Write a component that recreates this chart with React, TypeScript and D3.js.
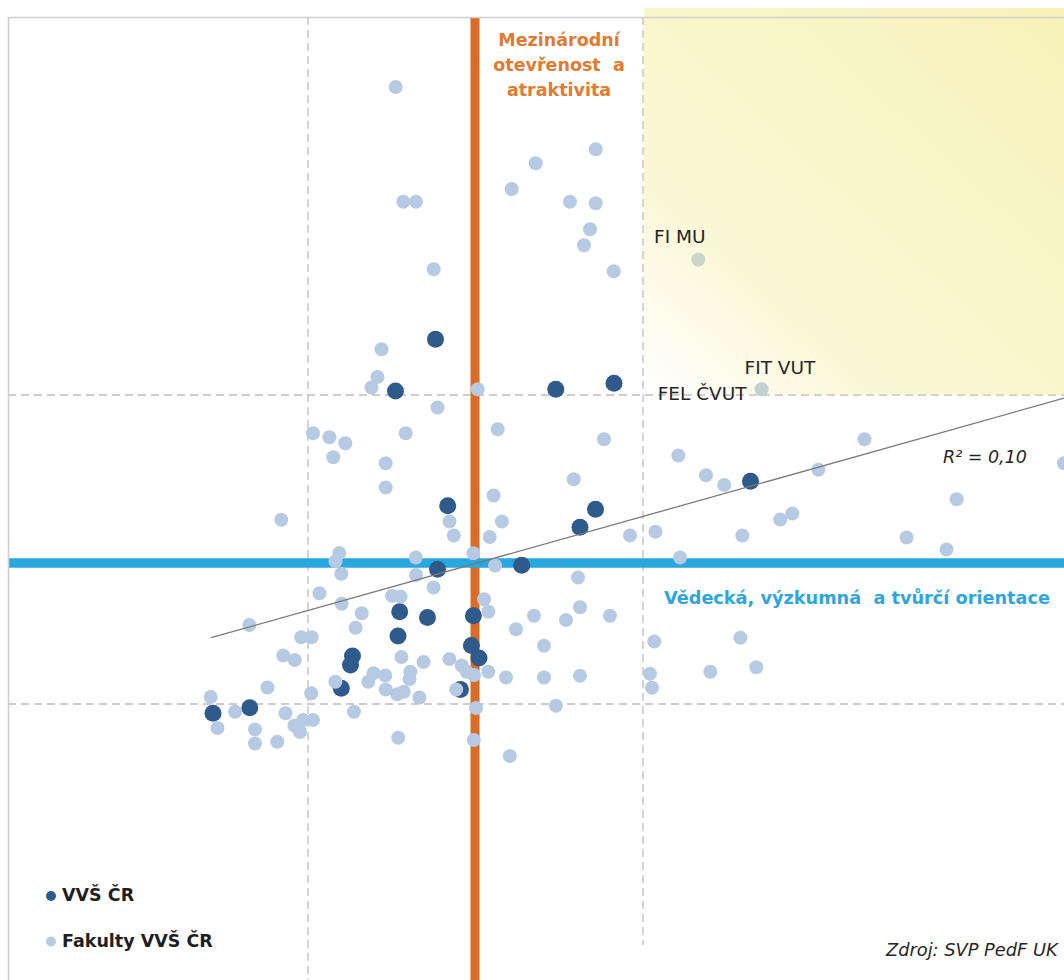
import React from "react";
import * as d3 from "d3";

// Data in index units (x: international openness, y: research orientation)
const universities: [number, number][] = [
  [42.75, 64.07], [38.75, 58.9], [54.78, 59.07], [60.6, 59.67], [43.97, 47.43],
  [58.75, 47.07], [57.2, 45.27], [74.25, 49.87], [42.95, 41.07], [51.37, 41.48],
  [39.17, 36.83], [41.95, 36.25], [46.54, 36.43], [39.0, 34.4], [46.34, 33.45],
  [47.1, 32.2], [34.45, 32.4], [34.25, 31.5], [33.33, 29.17], [45.25, 29.05],
  [20.5, 26.67], [24.18, 27.23],
];

const faculties: [number, number][] = [
  [38.77, 89.3], [39.53, 77.83], [40.8, 77.83], [42.57, 71.07], [52.77, 81.67],
  [50.37, 79.1], [58.77, 83.07], [56.2, 77.83], [58.77, 77.67], [58.2, 75.07],
  [57.6, 73.47], [60.57, 70.87], [69.03, 72.05], [75.36, 59.07],
  [37.35, 63.07], [36.95, 60.3], [36.35, 59.25], [46.97, 59.07], [42.95, 57.25],
  [30.5, 54.67], [32.14, 54.28], [33.73, 53.67], [32.53, 52.27], [39.77, 54.67],
  [37.77, 51.67], [37.77, 49.25], [48.97, 55.07], [59.6, 54.07], [56.57, 50.07],
  [44.15, 45.85], [44.58, 44.45], [48.56, 48.45], [49.39, 45.85], [48.17, 44.3],
  [62.2, 44.45], [64.75, 44.83], [27.33, 46.03],
  [67.03, 52.45], [69.8, 50.47], [71.62, 49.5], [81.04, 51.03], [85.65, 54.07],
  [94.87, 48.07], [105.6, 51.67], [73.43, 44.45], [77.22, 46.05], [78.43, 46.65],
  [89.86, 44.25], [93.86, 43.05], [67.21, 42.25], [60.2, 36.43], [64.63, 33.85],
  [73.24, 34.23], [64.2, 30.62], [64.4, 29.22], [70.23, 30.82], [74.83, 31.27],
  [33.13, 42.7], [32.75, 41.88], [33.33, 40.63], [40.78, 42.25], [40.8, 40.5],
  [46.54, 42.67], [48.71, 41.45], [42.56, 39.25], [57.0, 40.25], [31.15, 38.67],
  [38.41, 38.42], [39.26, 38.34], [33.37, 37.63], [47.6, 38.07], [48.03, 36.83],
  [35.37, 36.67], [52.6, 36.43], [57.2, 37.27], [55.8, 36.0], [50.8, 35.07],
  [24.13, 35.5], [34.76, 35.23], [29.32, 34.27], [30.36, 34.27], [27.52, 32.45],
  [28.68, 32.0], [39.35, 32.3], [41.55, 31.8], [44.14, 32.1], [53.6, 33.43],
  [45.37, 31.45], [45.87, 30.83], [46.6, 30.5], [48.03, 30.83], [49.8, 30.25],
  [53.6, 30.25], [57.2, 30.43], [36.55, 30.67], [36.03, 29.83], [37.73, 30.45],
  [37.77, 29.05], [32.74, 29.83], [25.95, 29.25], [30.32, 28.67], [20.27, 28.3],
  [20.95, 25.2], [22.71, 26.83], [24.7, 25.05], [24.7, 23.65], [26.93, 23.83],
  [27.75, 26.67], [28.64, 25.45], [29.2, 24.8], [29.5, 26.0], [30.5, 26.0],
  [34.6, 26.83], [40.23, 30.83], [40.15, 30.1], [39.58, 28.83], [38.92, 28.58],
  [41.14, 28.25], [44.82, 29.05], [46.8, 27.2], [54.8, 27.43], [39.02, 24.23],
  [46.58, 24.0], [50.18, 22.4],
];

const pointLabels = [
  { text: "FI MU", x: 64.6, y: 73.73 },
  { text: "FIT VUT", x: 73.66, y: 60.57 },
  { text: "FEL ČVUT", x: 64.97, y: 58.0 },
];

const xGridValues = [30, 63.5];
const yGridValues = [58.5, 27.6];
const xThreshold = 46.7;
const yThreshold = 41.7;
const trendIntercept = 28.53;
const trendSlope = 0.2808;
const trendFrom = 20.3;
const trendTo = 105.6;
const rSquaredText = "R² = 0,10";
const legendItems = ["VVŠ ČR", "Fakulty VVŠ ČR"];
const xAxisTitle = ["Mezinárodní", "otevřenost  a", "atraktivita"];
const yAxisTitle = "Vědecká, výzkumná  a tvůrčí orientace";
const sourceText = "Zdroj: SVP PedF UK";

const DARK = "#2F5A8C";
const LIGHT = "#B6CBE3";
const ORANGE = "#DA6C27";
const BLUE = "#29A7DF";
const GRID = "#BDBDBD";
const HIGHLIGHT = "#F4EC98";

export default function App() {
  const W = 1064;
  const H = 980;
  const x = d3.scaleLinear().domain([0, 105.6]).range([8, 1064]);
  const y = d3.scaleLinear().domain([0, 96.3]).range([980, 17]);
  const trendLine = d3.line<number>()
    .x((v) => x(v))
    .y((v) => y(trendIntercept + trendSlope * v));

  const hlX0 = x(63.6);
  const hlY0 = y(97.2);
  const hlY1 = y(58.5);

  return (
    <svg
      width={W}
      height={H}
      style={{ position: "absolute", left: 0, top: 0, background: "#fff" }}
      fontFamily="'DejaVu Sans', Verdana, sans-serif"
    >
      <defs>
        <linearGradient id="hl" x1="0" y1="1" x2="1" y2="0">
          <stop offset="0" stopColor={HIGHLIGHT} stopOpacity={0} />
          <stop offset="0.3" stopColor={HIGHLIGHT} stopOpacity={0.42} />
          <stop offset="1" stopColor={HIGHLIGHT} stopOpacity={0.68} />
        </linearGradient>
      </defs>

      {/* gridlines */}
      {xGridValues.map((v, i) => (
        <line key={"gx" + i} x1={x(v)} x2={x(v)} y1={y(96.3)} y2={i === 1 ? 945 : H}
          stroke={GRID} strokeWidth={1.3} strokeDasharray="8,5" />
      ))}
      {yGridValues.map((v, i) => (
        <line key={"gy" + i} x1={x(0)} x2={W} y1={y(v)} y2={y(v)}
          stroke={GRID} strokeWidth={1.3} strokeDasharray="8,5" />
      ))}

      {/* threshold lines */}
      <line x1={x(xThreshold)} x2={x(xThreshold)} y1={y(96.3)} y2={H} stroke={ORANGE} strokeWidth={9} />
      <line x1={x(0)} x2={W} y1={y(yThreshold)} y2={y(yThreshold)} stroke={BLUE} strokeWidth={9.5} />

      {/* points */}
      {universities.map((d, i) => (
        <circle key={"u" + i} cx={x(d[0])} cy={y(d[1])} r={8.5} fill={DARK} />
      ))}
      {faculties.map((d, i) => (
        <circle key={"f" + i} cx={x(d[0])} cy={y(d[1])} r={7} fill={LIGHT} />
      ))}

      {/* trend line */}
      <path d={trendLine([trendFrom, trendTo]) || ""} stroke="#7A7A7A" strokeWidth={1.3} fill="none" />

      {/* highlighted quadrant */}
      <rect x={hlX0} y={hlY0} width={W - hlX0} height={hlY1 - hlY0} fill="url(#hl)" />

      {/* plot border */}
      <path d={`M${x(0) + 0.5},${H} V${y(96.3) + 0.5} H${W}`} stroke="#CFCFCF" strokeWidth={1.6} fill="none" />

      {/* point labels */}
      {pointLabels.map((l, i) => (
        <text key={"l" + i} x={x(l.x)} y={y(l.y)} fontSize={18.5} fill="#262626">{l.text}</text>
      ))}

      {/* R squared */}
      <text x={943} y={463} fontSize={17.5} fontStyle="italic" fill="#262626" style={{ whiteSpace: "pre" }}>
        {rSquaredText}
      </text>

      {/* axis titles */}
      <text textAnchor="middle" fontSize={17.5} fontWeight="bold" fill="#E27A31" style={{ whiteSpace: "pre" }}>
        {xAxisTitle.map((t, i) => (
          <tspan key={i} x={559} y={46 + i * 24.8}>{t}</tspan>
        ))}
      </text>
      <text x={664} y={604} fontSize={17.7} fontWeight="bold" fill="#2EA6DD" style={{ whiteSpace: "pre" }}>
        {yAxisTitle}
      </text>

      {/* legend */}
      <circle cx={51} cy={896} r={5} fill={DARK} />
      <text x={62} y={901} fontSize={17.5} fontWeight="bold" fill="#1F1F1F">{legendItems[0]}</text>
      <circle cx={51} cy={941.5} r={5} fill={LIGHT} />
      <text x={62} y={947} fontSize={17.5} fontWeight="bold" fill="#1F1F1F">{legendItems[1]}</text>

      {/* source */}
      <text x={886} y={956} fontSize={17.8} fontStyle="italic" fill="#262626">{sourceText}</text>
    </svg>
  );
}
